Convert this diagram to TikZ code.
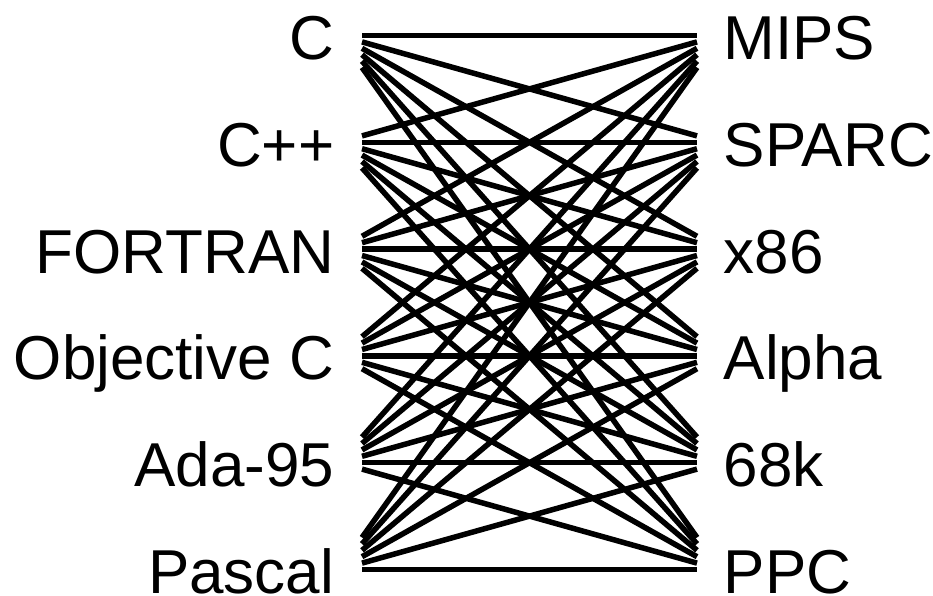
\documentclass[tikz,border=0pt]{standalone}
\usepackage{fontspec}
\setmainfont{Liberation Sans}
\begin{document}
\begin{tikzpicture}[
        x=1pt, y=-1pt,
        line width=5.5pt,
        line cap=butt,
        lang/.style={anchor=base east, inner sep=0pt, font=\fontsize{62}{62}\selectfont},
        arch/.style={anchor=base west, inner sep=0pt, font=\fontsize{62}{62}\selectfont}
        ]
        \useasboundingbox (0,0) rectangle (933,595);
        % languages
        \node[lang] (c) at (337,59.5) {C};
        \node[lang] (cpp) at (337,166.3) {C++};
        \node[lang] (fortran) at (337,273.1) {FORTRAN};
        \node[lang] (objc) at (337,379.9) {Objective C};
        \node[lang] (ada) at (337,486.7) {Ada-95};
        \node[lang] (pascal) at (337,593.5) {Pascal};
        % architectures
        \node[arch] (mips) at (721,59.5) {MIPS};
        \node[arch] (sparc) at (721,166.3) {SPARC};
        \node[arch] (x86) at (721,273.1) {x86};
        \node[arch] (alpha) at (721,379.9) {Alpha};
        \node[arch] (m68k) at (721,486.7) {68k};
        \node[arch] (ppc) at (721,593.5) {PPC};
        % ports
        \foreach \n/\y in {c/35.5, cpp/142.3, fortran/249.1, objc/355.9, ada/462.7, pascal/569.5}
            \coordinate (\n-p) at (362,\y);
        \foreach \n/\y in {mips/35.5, sparc/142.3, x86/249.1, alpha/355.9, m68k/462.7, ppc/569.5}
            \coordinate (\n-p) at (697,\y);
        % every language to every architecture
        \foreach \a/\i in {c/1, cpp/2, fortran/3, objc/4, ada/5, pascal/6}
            \foreach \b/\j in {mips/1, sparc/2, x86/3, alpha/4, m68k/5, ppc/6}
                \draw ([yshift={(\i-\j)*6.4pt}]\a-p) -- ([yshift={(\j-\i)*6.4pt}]\b-p);
\end{tikzpicture}
\end{document}
